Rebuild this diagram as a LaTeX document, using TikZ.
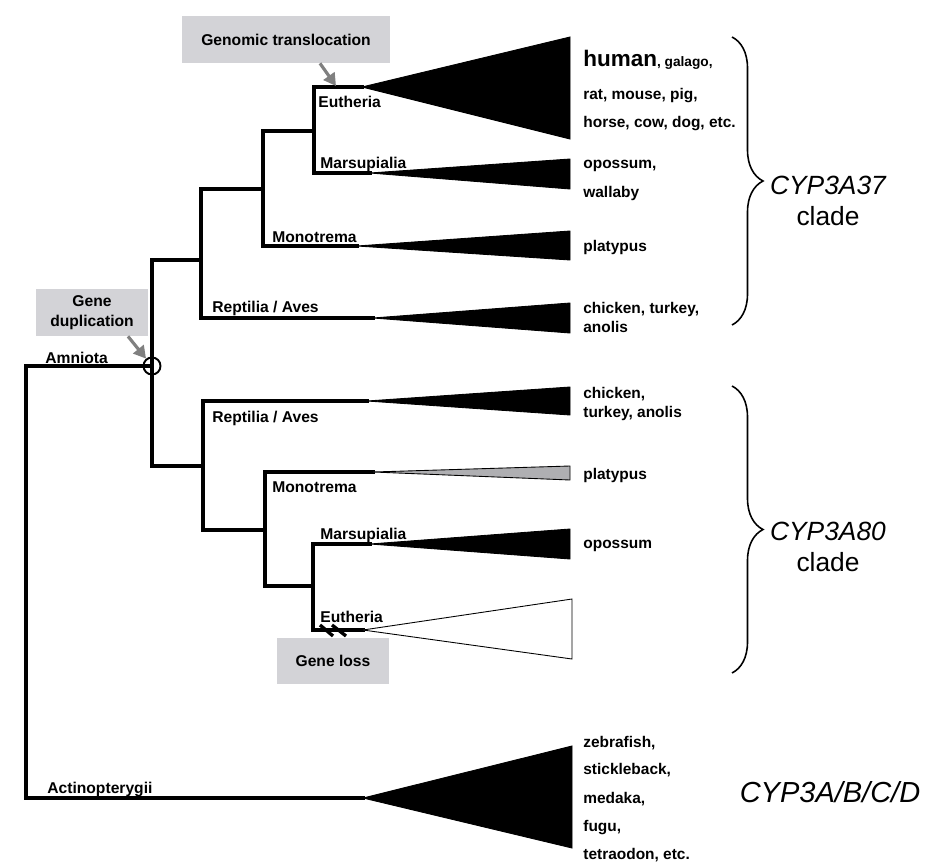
\documentclass[tikz,border=0pt]{standalone}
\usepackage{fontspec}
\setmainfont{Liberation Sans}
\usetikzlibrary{positioning,arrows.meta,decorations.pathreplacing}
\definecolor{boxgray}{RGB}{211,211,215}
\definecolor{arrowgray}{RGB}{128,128,128}
\definecolor{wedgegray}{RGB}{175,175,178}

\begin{document}
\begin{tikzpicture}[
		x=0.02cm, y=-0.02cm,
		branch/.style={line width=1.9pt, line cap=rect},
		wedge/.style={fill=black, draw=black, line width=0.5pt},
		taxon/.style={anchor=base west, inner sep=0pt, font=\fontsize{8.9}{10}\selectfont\bfseries},
		species/.style={anchor=base west, inner sep=0pt, font=\fontsize{8.8}{10}\selectfont\bfseries},
		event/.style={fill=boxgray, inner sep=0pt, align=center, font=\fontsize{8.9}{11}\selectfont\bfseries},
		evarrow/.style={draw=arrowgray, line width=1.8pt, -{Triangle[length=7pt,width=7.5pt]}},
		dupmark/.style={circle, draw, line width=1.1pt, minimum size=0.34cm, inner sep=0pt},
		lossmark/.style={line width=1.9pt},
		clbrace/.style={decorate, decoration={brace, amplitude=0.62cm}, line width=0.9pt},
		cladename/.style={inner sep=0pt, font=\fontsize{15}{17}\selectfont\itshape},
		cladeword/.style={inner sep=0pt, font=\fontsize{15}{17}\selectfont},
	]
		\useasboundingbox (0,0) rectangle (929,865);

		\coordinate (root) at (26,366);
		\node[dupmark] (dup) at (152,366) {};
		\coordinate (act) at (363,798);
		\coordinate (s37) at (152,260);
		\coordinate (s80) at (152,466);

		% CYP3A37 side
		\coordinate (n37) at (201,260);
		\coordinate (m37) at (263,189);
		\coordinate (t37) at (314,131);
		\coordinate (eu37) at (362,87);
		\coordinate (ma37) at (370,173);
		\coordinate (mo37) at (357,246);
		\coordinate (re37) at (373,318);

		% CYP3A80 side
		\coordinate (n80) at (203,466);
		\coordinate (m80) at (265,530);
		\coordinate (t80) at (313,586);
		\coordinate (re80) at (367,401);
		\coordinate (mo80) at (373,472);
		\coordinate (ma80) at (370,544);
		\coordinate (eu80) at (363,630);

		\draw[branch] (dup.center) -- (root) |- (act);
		\draw[branch] (s37) -- (s80);
		\draw[branch] (s37) -- (n37);
		\draw[branch] (re37) -| (n37) |- (m37);
		\draw[branch] (mo37) -| (m37) |- (t37);
		\draw[branch] (ma37) -| (t37) |- (eu37);
		\draw[branch] (s80) -- (n80);
		\draw[branch] (re80) -| (n80) |- (m80);
		\draw[branch] (mo80) -| (m80) |- (t80);
		\draw[branch] (ma80) -| (t80) |- (eu80);

		\filldraw[wedge] (eu37) -- (570,37) -- (570,139) -- cycle;
		\filldraw[wedge] (ma37) -- (570,159) -- (570,189) -- cycle;
		\filldraw[wedge] (mo37) -- (570,231) -- (570,260) -- cycle;
		\filldraw[wedge] (re37) -- (570,303) -- (570,333) -- cycle;
		\filldraw[wedge] (re80) -- (570,387) -- (570,415) -- cycle;
		\filldraw[wedge, fill=wedgegray] (mo80) -- (570,466) -- (570,480) -- cycle;
		\filldraw[wedge] (ma80) -- (570,529) -- (570,559) -- cycle;
		\filldraw[wedge, fill=white] (eu80) -- (572,599) -- (572,659) -- cycle;
		\filldraw[wedge] (act) -- (572,746) -- (572,848) -- cycle;

		\draw[lossmark] (320,625) -- (333,636) (332,625) -- (346,636);

		\node[taxon] (lEu37) at (318,108) {Eutheria};
		\node[taxon] (lMa37) at (320,168) {Marsupialia};
		\node[taxon] (lMo37) at (272,242) {Monotrema};
		\node[taxon] (lRe37) at (212,312) {Reptilia / Aves};
		\node[taxon] (lRe80) at (212,422) {Reptilia / Aves};
		\node[taxon] (lMo80) at (272,492) {Monotrema};
		\node[taxon] (lMa80) at (320,539) {Marsupialia};
		\node[taxon] (lEu80) at (320,622) {Eutheria};
		\node[taxon] (lAmn) at (45,363) {Amniota};
		\node[taxon] (lAct) at (47,793) {Actinopterygii};

		\node[species] (sp1) at (583,67) {{\fontsize{12.8}{14}\selectfont human}{\fontsize{7.8}{9}\selectfont, galago,}};
		\node[species] (sp2) at (583,99) {rat, mouse, pig,};
		\node[species] (sp3) at (583,128) {horse, cow, dog, etc.};
		\node[species] (sp4) at (583,168) {opossum,};
		\node[species] (sp5) at (583,197) {wallaby};
		\node[species] (sp6) at (583,251) {platypus};
		\node[species] (sp7) at (583,313) {chicken, turkey,};
		\node[species] (sp8) at (583,332) {anolis};
		\node[species] (sp9) at (583,398) {chicken,};
		\node[species] (sp10) at (583,417) {turkey, anolis};
		\node[species] (sp11) at (583,479) {platypus};
		\node[species] (sp12) at (583,548) {opossum};
		\node[species] (fi1) at (583,747) {zebrafish,};
		\node[species] (fi2) at (583,774) {stickleback,};
		\node[species] (fi3) at (583,803) {medaka,};
		\node[species] (fi4) at (583,831) {fugu,};
		\node[species] (fi5) at (583,859) {tetraodon, etc.};

		\coordinate (b37t) at (732,37);
		\coordinate (b37b) at (732,325);
		\coordinate (b80t) at (732,386);
		\coordinate (b80b) at (732,673);
		\draw[clbrace] (b37t) -- (b37b);
		\draw[clbrace] (b80t) -- (b80b);

		\node[cladename] (c37) at (828,185) {CYP3A37};
		\node[cladeword, below=6.5pt of c37] (c37w) {clade};
		\node[cladename] (c80) at (828,531) {CYP3A80};
		\node[cladeword, below=6.5pt of c80] (c80w) {clade};
		\node[cladename, font=\fontsize{16.5}{18}\selectfont\itshape] (cfish) at (830,792) {CYP3A/B/C/D};

		\node[event, minimum width=4.16cm, minimum height=0.94cm] (trans) at (286,39.5) {Genomic translocation};
		\node[event, minimum width=2.24cm, minimum height=0.94cm] (dupbox) at (92,312.5) {Gene\\duplication};
		\node[event, minimum width=2.24cm, minimum height=0.92cm] (lossbox) at (333,661) {Gene loss};
		\coordinate (transhit) at (336,86);
		\draw[evarrow] ([xshift=0.68cm]trans.south) -- (transhit);
		\draw[evarrow] ([xshift=0.72cm]dupbox.south) -- (dup);
	\end{tikzpicture}
\end{document}
